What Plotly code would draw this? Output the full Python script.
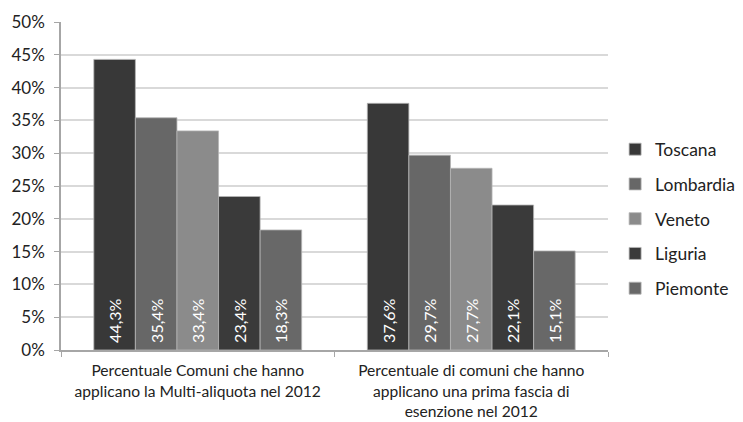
import plotly.graph_objects as go

categories = [
    "Percentuale Comuni che hanno<br>applicano la Multi-aliquota nel 2012",
    "Percentuale di comuni che hanno<br>applicano una prima fascia di<br>esenzione nel 2012",
]
regions = ["Toscana", "Lombardia", "Veneto", "Liguria", "Piemonte"]
values = {
    "Toscana": [44.3, 37.6],
    "Lombardia": [35.4, 29.7],
    "Veneto": [33.4, 27.7],
    "Liguria": [23.4, 22.1],
    "Piemonte": [18.3, 15.1],
}
colors = {
    "Toscana": "#383838",
    "Lombardia": "#676767",
    "Veneto": "#8b8b8b",
    "Liguria": "#3a3a3a",
    "Piemonte": "#686868",
}
y_ticks = list(range(0, 55, 5))
y_ticktext = [f"{t}%" for t in y_ticks]

FONT = "Lato"

def it_pct(v):
    return "\u00a0" + f"{v:.1f}".replace(".", ",") + "%"

fig = go.Figure()
for r in regions:
    fig.add_trace(go.Bar(
        name=r,
        x=categories,
        y=values[r],
        marker=dict(color=colors[r], line=dict(color="#b5b5b5", width=0.8)),
        text=[it_pct(v) for v in values[r]],
        textposition="inside",
        insidetextanchor="start",
        textfont=dict(color="white", size=16, family=FONT),
        legendgroup=r,
        hoverinfo="skip",
    ))
fig.update_traces(textangle=-90)

fig.update_layout(
    width=743,
    height=422,
    margin=dict(l=61, r=135, t=22, b=72, autoexpand=False),
    paper_bgcolor="white",
    plot_bgcolor="white",
    barmode="group",
    bargap=0.24,
    bargroupgap=0,
    font=dict(family=FONT, color="#333333"),
    legend=dict(
        x=1.013, xanchor="left",
        y=0.40, yanchor="middle",
        font=dict(size=17.5, family=FONT, color="#222222"),
        tracegroupgap=9,
        itemwidth=30,
    ),
    showlegend=True,
)
fig.update_xaxes(
    showline=True, linecolor="#a6a6a6", linewidth=1.5,
    ticks="outside", tickson="boundaries", ticklen=5, tickcolor="#a6a6a6",
    tickfont=dict(size=15.6, family=FONT, color="#222222"),
    ticklabelstandoff=6,
    showgrid=False,
)
fig.update_yaxes(
    range=[0, 50], tickvals=y_ticks, ticktext=y_ticktext,
    showline=True, linecolor="#a6a6a6", linewidth=1.5,
    ticks="outside", ticklen=5, tickcolor="#a6a6a6",
    showgrid=True, gridcolor="#d9d9d9", gridwidth=1.5,
    tickfont=dict(size=17, family=FONT, color="#222222"),
    ticklabelstandoff=6,
    zeroline=False,
)

fig.write_html("out.html")
